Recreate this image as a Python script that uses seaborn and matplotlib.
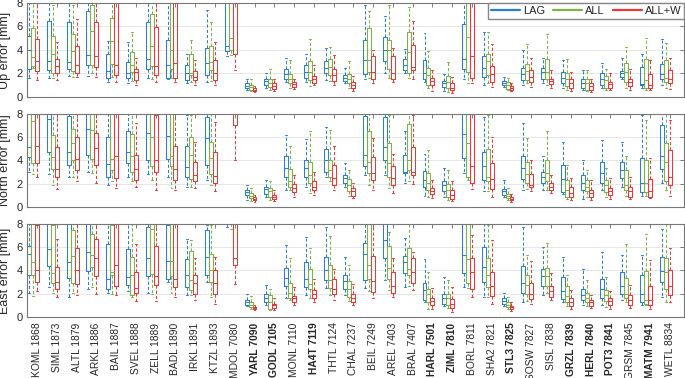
import numpy as np
import pandas as pd
import matplotlib
matplotlib.use("Agg")
import matplotlib.pyplot as plt
import seaborn as sns
from matplotlib.lines import Line2D

# ========== DATA ==========
stations = ["KOML 1868", "SIML 1873", "ALTL 1879", "ARKL 1886", "BAIL 1887",
            "SVEL 1888", "ZELL 1889", "BADL 1890", "IRKL 1891", "KTZL 1893",
            "MDOL 7080", "YARL 7090", "GODL 7105", "MONL 7110", "HA4T 7119",
            "THTL 7124", "CHAL 7237", "BEIL 7249", "AREL 7403", "BRAL 7407",
            "HARL 7501", "ZIML 7810", "BORL 7811", "SHA2 7821", "STL3 7825",
            "SOSW 7827", "SISL 7838", "GRZL 7839", "HERL 7840", "POT3 7841",
            "GRSM 7845", "MATM 7941", "WETL 8834"]
bold_stations = ["YARL 7090", "GODL 7105", "HA4T 7119", "HARL 7501", "ZIML 7810",
                 "STL3 7825", "GRZL 7839", "HERL 7840", "POT3 7841", "MATM 7941"]
methods = ["LAG", "ALL", "ALL+W"]
colors = ["#2b7fd3", "#7cb342", "#e8383a"]

# each box: [whisker low, q1, median, q3, whisker high] in mm (values > 8 are off-axis)
up_lag = [[1.65, 2.4, 4.0, 5.2, 9], [1.65, 2.3, 3.1, 6.45, 9], [1.75, 2.35, 2.95, 6.35, 8.0],
          [1.75, 2.7, 3.6, 7.3, 9], [1.3, 1.65, 2.2, 3.65, 4.8], [1.15, 1.65, 2.05, 2.95, 4.65],
          [1.65, 2.4, 3.2, 6.35, 9], [1.5, 1.65, 2.7, 4.85, 9], [1.15, 1.45, 2.0, 2.7, 3.7],
          [1.3, 1.85, 2.9, 4.15, 7.4], [3.5, 3.95, 4.35, 9, 9.5], [0.57, 0.8, 0.97, 1.15, 1.55],
          [0.8, 1.05, 1.4, 1.55, 2.0], [1.3, 1.55, 1.95, 2.35, 3.3], [1.3, 1.65, 2.15, 2.7, 3.7],
          [1.45, 2.0, 2.5, 3.05, 4.15], [1.15, 1.35, 1.65, 1.85, 2.5], [1.5, 1.95, 3.15, 4.85, 7.85],
          [2.05, 3.1, 4.0, 5.1, 6.9], [2.05, 2.3, 2.7, 3.2, 4.05], [1.25, 1.55, 2.05, 3.15, 5.45],
          [0.5, 0.85, 1.2, 1.35, 1.95], [1.55, 2.35, 3.2, 6.25, 9], [1.0, 1.7, 2.45, 3.45, 5.5],
          [0.85, 1.0, 1.2, 1.35, 1.7], [1.0, 1.45, 1.95, 2.5, 4.0], [1.15, 1.55, 2.15, 2.45, 3.35],
          [0.8, 1.15, 1.65, 2.15, 3.15], [0.57, 0.8, 1.15, 1.5, 2.3], [0.8, 1.0, 1.5, 2.05, 2.9],
          [1.5, 1.7, 2.0, 2.2, 3.35], [0.8, 1.0, 1.1, 2.55, 3.65], [1.0, 1.5, 1.95, 2.85, 4.9]]
up_all = [[2.5, 2.6, 3.4, 5.85, 9], [1.65, 2.05, 3.7, 5.15, 7.8], [1.7, 2.2, 3.95, 5.35, 7.8],
          [2.0, 2.75, 5.6, 7.8, 9], [1.7, 2.85, 4.75, 6.7, 8.0], [1.4, 2.1, 2.75, 3.8, 5.5],
          [1.5, 2.6, 4.3, 7.1, 9], [1.65, 2.4, 4.0, 8.0, 9], [1.3, 1.85, 2.05, 3.7, 4.85],
          [1.4, 2.3, 3.0, 4.3, 6.4], [3.6, 4.0, 5.0, 9, 9.5], [0.5, 0.63, 0.85, 1.05, 1.5],
          [0.63, 0.85, 1.2, 1.55, 2.35], [0.8, 1.15, 1.5, 1.95, 3.15], [0.9, 1.45, 2.15, 3.1, 4.9],
          [1.4, 1.85, 2.55, 3.2, 4.25], [0.8, 1.15, 1.5, 1.95, 3.1], [1.65, 2.15, 3.15, 5.85, 7.3],
          [1.65, 2.4, 4.0, 4.85, 7.85], [1.65, 2.0, 3.85, 5.55, 7.65], [0.8, 1.0, 1.85, 2.5, 3.95],
          [0.43, 0.8, 1.25, 1.75, 3.0], [1.2, 2.1, 5.1, 9, 9.5], [1.15, 1.85, 3.1, 3.7, 5.55],
          [0.57, 0.7, 1.0, 1.25, 1.65], [1.15, 1.45, 2.25, 2.8, 4.5], [1.0, 1.5, 2.1, 3.2, 5.35],
          [0.63, 0.9, 1.5, 2.05, 3.2], [0.5, 0.63, 1.2, 1.55, 2.3], [0.63, 0.8, 1.45, 1.75, 2.4],
          [0.8, 1.3, 2.15, 2.9, 4.25], [0.57, 0.8, 1.45, 3.2, 5.0], [0.8, 1.3, 1.6, 3.15, 4.6]]
up_allw = [[1.45, 2.25, 3.1, 4.95, 9], [1.45, 2.05, 2.6, 3.25, 4.7], [1.7, 2.05, 2.7, 4.3, 6.6],
           [1.7, 2.55, 3.5, 6.35, 9], [1.25, 1.85, 2.75, 9, 9.5], [1.0, 1.45, 2.15, 2.4, 3.3],
           [1.25, 1.85, 2.6, 5.95, 9], [1.3, 1.65, 2.9, 9, 9.5], [1.0, 1.45, 1.7, 2.2, 3.15],
           [1.0, 1.45, 2.05, 3.15, 4.7], [2.3, 3.7, 9, 9.5, 9.5], [0.43, 0.5, 0.63, 0.75, 0.9],
           [0.5, 0.65, 0.9, 1.15, 1.5], [0.7, 0.85, 1.1, 1.25, 1.5], [1.0, 1.15, 1.5, 1.75, 2.7],
           [1.0, 1.35, 1.85, 2.35, 3.55], [0.55, 0.8, 1.05, 1.3, 1.75], [1.2, 1.55, 2.15, 3.5, 4.0],
           [1.25, 1.55, 2.0, 3.5, 4.15], [1.5, 2.3, 2.55, 4.45, 6.45], [0.55, 1.0, 1.35, 1.65, 2.3],
           [0.3, 0.63, 0.8, 1.15, 1.7], [1.2, 1.65, 3.5, 9, 9.5], [0.85, 1.25, 1.95, 2.65, 4.55],
           [0.5, 0.63, 0.8, 0.95, 1.15], [0.85, 1.3, 1.7, 2.3, 3.3], [0.8, 1.1, 1.35, 1.55, 2.3],
           [0.5, 0.8, 1.15, 1.5, 2.15], [0.43, 0.63, 0.9, 1.15, 1.55], [0.57, 0.8, 1.1, 1.3, 2.05],
           [0.63, 0.9, 1.3, 1.55, 2.4], [0.57, 0.8, 1.0, 1.95, 3.15], [0.7, 1.15, 1.55, 2.3, 3.3]]

north_lag = [[3.0, 4.3, 5.2, 9, 9.5], [2.8, 4.7, 7.6, 9, 9.5], [2.6, 3.6, 4.75, 7.8, 9],
             [3.05, 4.5, 6.7, 9, 9.5], [1.9, 2.6, 3.7, 6.0, 9], [2.6, 3.75, 4.75, 6.55, 9],
             [2.8, 4.05, 6.35, 9, 9.5], [2.6, 4.1, 6.1, 9, 9.5], [1.75, 2.55, 3.4, 5.25, 7.9],
             [2.35, 3.6, 5.9, 7.75, 9], [8.5, 9, 9.5, 9.8, 10], [0.63, 1.05, 1.25, 1.5, 1.9],
             [0.85, 1.15, 1.55, 1.75, 2.35], [1.5, 2.6, 3.35, 4.4, 6.2], [1.75, 2.6, 3.35, 4.05, 5.85],
             [2.6, 3.05, 4.05, 4.95, 6.85], [1.75, 2.05, 2.5, 2.75, 3.75], [2.75, 3.55, 4.5, 7.8, 9],
             [2.75, 4.0, 5.15, 7.7, 9], [2.1, 2.9, 3.05, 4.5, 6.5], [0.97, 1.75, 2.35, 3.1, 4.55],
             [0.85, 1.35, 1.85, 2.2, 3.35], [2.9, 4.2, 6.3, 8.0, 9], [1.35, 2.35, 3.5, 4.75, 7.75],
             [0.85, 1.05, 1.35, 1.55, 2.35], [1.5, 2.4, 3.35, 4.35, 7.25], [1.5, 2.1, 2.6, 3.05, 4.35],
             [1.15, 1.25, 2.4, 3.6, 5.55], [0.7, 1.5, 2.1, 2.75, 4.05], [1.5, 2.05, 2.95, 3.85, 5.75],
             [1.75, 2.5, 3.15, 3.9, 5.6], [0.97, 1.25, 2.05, 4.2, 7.9], [2.05, 3.25, 4.35, 7.05, 9]]
north_all = [[2.8, 3.8, 7.4, 9, 9.5], [1.9, 3.25, 4.3, 6.2, 9], [2.6, 4.0, 5.5, 6.7, 9],
             [2.9, 4.1, 6.6, 9, 9.5], [2.2, 3.2, 4.1, 9, 9.5], [2.2, 3.0, 4.35, 6.3, 9],
             [2.3, 3.5, 6.0, 9, 9.5], [1.65, 3.5, 4.4, 9, 9.5], [1.75, 2.4, 4.5, 6.0, 7.9],
             [1.9, 2.85, 4.2, 5.6, 9], [8.5, 9, 9.5, 9.8, 10], [0.5, 0.77, 0.97, 1.2, 1.6],
             [0.63, 0.85, 1.35, 1.6, 2.2], [1.45, 1.75, 2.2, 3.25, 5.25], [1.2, 2.1, 2.75, 3.9, 6.55],
             [2.2, 2.6, 3.2, 4.05, 6.65], [0.97, 1.35, 1.9, 2.4, 3.2], [1.9, 2.9, 3.9, 6.5, 9],
             [1.6, 2.6, 3.8, 5.5, 7.9], [2.2, 3.2, 4.0, 7.15, 9], [0.85, 1.5, 2.05, 2.9, 4.9],
             [0.63, 0.85, 1.5, 2.0, 3.2], [2.35, 2.6, 5.5, 9, 9.5], [1.35, 2.2, 2.6, 5.0, 7.9],
             [0.57, 0.77, 0.97, 1.15, 1.6], [1.55, 2.1, 2.85, 3.85, 5.9], [1.5, 2.2, 2.95, 4.05, 6.5],
             [0.7, 0.9, 1.5, 2.35, 3.6], [0.85, 1.35, 1.75, 2.35, 3.15], [0.9, 1.25, 1.85, 2.3, 3.35],
             [0.97, 1.45, 1.9, 3.15, 4.35], [0.97, 1.25, 2.05, 4.05, 7.5], [1.5, 2.2, 3.9, 5.5, 8.0]]
north_allw = [[2.6, 3.75, 5.25, 9, 9.5], [1.55, 2.6, 3.25, 5.15, 9], [2.2, 3.2, 4.15, 6.0, 9],
              [2.05, 3.6, 5.05, 6.35, 9], [1.6, 2.5, 4.4, 9, 9.5], [1.7, 2.3, 3.25, 4.5, 7.2],
              [1.5, 3.0, 4.05, 7.9, 9], [1.5, 2.3, 3.25, 5.25, 9], [1.6, 2.2, 2.75, 3.9, 5.6],
              [1.35, 2.05, 2.7, 4.75, 7.35], [4.05, 7.05, 9, 9.5, 9.8], [0.4, 0.57, 0.7, 0.85, 1.05],
              [0.5, 0.7, 0.85, 1.05, 1.5], [0.85, 1.25, 1.6, 2.0, 2.75], [1.05, 1.5, 1.75, 2.2, 3.05],
              [1.5, 1.85, 2.5, 3.6, 5.25], [0.77, 0.97, 1.35, 1.6, 2.05], [1.5, 2.3, 2.9, 4.3, 5.9],
              [1.2, 1.9, 2.5, 3.5, 4.6], [2.0, 2.75, 3.05, 5.2, 7.9], [0.77, 1.15, 1.4, 1.6, 2.35],
              [0.5, 0.7, 1.05, 1.5, 2.2], [1.55, 2.1, 3.5, 9, 9.5], [0.9, 1.55, 2.4, 3.75, 6.05],
              [0.4, 0.57, 0.7, 0.85, 1.15], [1.35, 1.7, 1.9, 2.85, 4.05], [1.2, 1.5, 1.75, 2.1, 2.75],
              [0.57, 0.85, 1.2, 1.7, 2.5], [0.63, 0.85, 1.2, 1.5, 2.35], [0.7, 1.0, 1.35, 1.65, 2.5],
              [0.7, 0.85, 1.35, 1.75, 2.6], [0.77, 0.85, 1.35, 2.4, 4.2], [0.97, 1.85, 2.6, 4.9, 7.5]]

east_lag = [[2.05, 3.65, 5.45, 6.1, 9], [2.6, 4.4, 5.85, 9, 9.5], [1.7, 3.35, 4.7, 9, 9.5],
            [2.45, 3.95, 5.55, 9, 9.5], [2.1, 2.45, 3.3, 6.25, 9], [2.2, 2.75, 3.45, 5.85, 9],
            [2.1, 3.55, 5.05, 7.7, 9], [3.0, 3.3, 4.8, 7.95, 9], [1.9, 2.6, 3.6, 5.0, 6.75],
            [3.0, 3.6, 5.2, 7.5, 7.9], [7.7, 8.5, 9, 9.5, 10], [0.95, 1.05, 1.3, 1.45, 1.95],
            [1.0, 1.3, 1.65, 1.95, 2.75], [1.65, 2.7, 3.35, 4.25, 6.2], [1.85, 2.6, 3.25, 4.7, 6.9],
            [2.5, 3.15, 4.05, 5.2, 7.7], [1.85, 2.45, 3.1, 3.6, 5.2], [2.5, 3.15, 5.4, 6.35, 9],
            [3.15, 5.1, 6.6, 9, 9.5], [2.6, 3.75, 4.75, 5.25, 6.8], [1.25, 1.45, 2.3, 2.95, 5.0],
            [0.95, 1.15, 1.65, 1.95, 3.45], [2.6, 3.75, 5.3, 8.0, 9], [1.75, 3.0, 4.3, 6.05, 8.0],
            [0.95, 1.15, 1.4, 1.6, 2.1], [1.25, 2.1, 2.9, 4.4, 7.75], [1.85, 2.7, 3.55, 4.15, 6.05],
            [1.3, 1.55, 2.2, 3.45, 5.2], [1.05, 1.45, 1.85, 2.45, 4.1], [1.05, 1.65, 2.4, 3.3, 5.55],
            [1.45, 1.95, 2.7, 3.85, 5.3], [1.0, 1.25, 2.0, 3.65, 5.3], [1.75, 3.0, 3.95, 5.2, 7.55]]
east_all = [[1.8, 3.65, 4.7, 9, 9.5], [2.1, 2.9, 3.8, 7.9, 9], [2.1, 2.9, 5.25, 7.5, 9],
            [2.6, 4.3, 5.3, 7.1, 9], [2.0, 3.6, 3.9, 7.9, 9], [1.75, 1.9, 3.6, 5.15, 9],
            [2.0, 3.7, 7.6, 9, 9.5], [2.1, 3.5, 4.8, 9, 9.5], [1.9, 2.3, 3.15, 5.65, 6.6],
            [1.7, 3.0, 4.0, 5.45, 7.9], [7.6, 8.5, 9, 9.5, 10], [0.72, 0.85, 1.05, 1.25, 1.8],
            [0.57, 0.7, 1.3, 1.85, 2.45], [1.45, 1.65, 2.1, 2.9, 5.1], [1.6, 2.4, 2.8, 4.15, 5.95],
            [1.85, 2.5, 3.15, 4.5, 7.0], [1.35, 1.75, 2.4, 3.1, 4.45], [2.2, 3.3, 4.5, 9, 9.5],
            [2.3, 3.3, 4.2, 6.15, 7.35], [2.7, 3.6, 4.1, 5.9, 9], [0.7, 1.25, 1.95, 2.4, 3.9],
            [0.78, 1.0, 1.6, 2.0, 3.15], [2.5, 2.9, 5.0, 9, 9.5], [1.75, 2.6, 3.6, 5.05, 7.9],
            [0.65, 0.85, 1.05, 1.25, 1.75], [1.35, 1.95, 2.75, 3.6, 5.3], [2.1, 2.7, 3.5, 4.25, 6.4],
            [0.95, 1.25, 1.8, 2.7, 3.65], [0.95, 1.25, 1.65, 2.1, 3.15], [0.85, 1.35, 1.85, 2.3, 3.45],
            [1.25, 1.6, 2.0, 3.35, 6.25], [1.0, 1.15, 1.45, 3.95, 7.1], [1.25, 2.4, 3.85, 5.05, 8.0]]
east_allw = [[2.2, 3.0, 4.0, 7.9, 9], [1.7, 2.4, 3.0, 4.3, 6.75], [1.85, 2.8, 4.0, 5.95, 9],
             [2.0, 3.55, 5.05, 6.75, 9], [1.85, 2.7, 4.45, 9, 9.5], [1.35, 2.1, 2.5, 3.85, 6.25],
             [1.35, 2.75, 3.55, 6.15, 9], [1.75, 2.6, 3.25, 9, 9.5], [1.45, 2.0, 2.9, 3.65, 5.05],
             [1.15, 2.0, 2.9, 4.0, 5.2], [2.85, 4.45, 5.05, 9, 9.5], [0.57, 0.65, 0.77, 0.85, 1.05],
             [0.57, 0.78, 1.0, 1.15, 1.6], [1.0, 1.25, 1.6, 1.8, 2.6], [1.3, 1.65, 2.0, 2.3, 3.25],
             [1.45, 1.95, 2.45, 3.3, 4.15], [1.0, 1.25, 1.65, 2.0, 2.8], [1.6, 2.15, 3.1, 5.25, 9],
             [1.75, 2.1, 2.7, 3.9, 5.05], [2.3, 2.9, 3.85, 5.1, 5.55], [0.65, 1.0, 1.35, 1.65, 2.5],
             [0.43, 0.78, 1.15, 1.55, 2.6], [1.75, 2.4, 3.85, 5.05, 7.05], [1.15, 1.8, 2.7, 3.9, 6.6],
             [0.5, 0.65, 0.83, 0.95, 1.25], [1.15, 1.55, 2.0, 2.9, 4.8], [1.45, 1.75, 2.2, 2.7, 3.75],
             [0.65, 0.95, 1.3, 1.6, 2.3], [0.77, 0.95, 1.25, 1.45, 1.85], [0.72, 1.0, 1.35, 1.65, 2.2],
             [0.77, 1.0, 1.45, 1.85, 2.75], [0.72, 1.0, 1.45, 2.7, 4.9], [1.25, 1.85, 2.7, 4.05, 5.9]]

panels = [("Up error [mm]", [up_lag, up_all, up_allw]),
          ("North error [mm]", [north_lag, north_all, north_allw]),
          ("East error [mm]", [east_lag, east_all, east_allw])]

# ========== PLOT ==========
sns.set_style("white")
plt.rcParams["font.family"] = ["Liberation Sans", "DejaVu Sans"]

fig, axes = plt.subplots(3, 1, figsize=(6.85, 3.78), dpi=100)
# [bottom, height] of each panel in figure fraction
layout = [(0.7434, 0.2487), (0.4524, 0.2460), (0.1614, 0.2460)]

for i, (ax, (label, groups)) in enumerate(zip(axes, panels)):
    ax.set_position([0.0394, layout[i][0], 0.9598, layout[i][1]])
    rows = []
    for m, stats in zip(methods, groups):
        for st, five in zip(stations, stats):
            for v in five:
                rows.append({"station": st, "method": m, "value": v})
    df = pd.DataFrame(rows)

    sns.boxplot(data=df, x="station", y="value", hue="method", order=stations,
                hue_order=methods, palette=colors, fill=False, whis=(0, 100),
                width=0.6, gap=0, linewidth=0.75, showfliers=False,
                whiskerprops={"linestyle": (0, (3, 2))}, legend=False, ax=ax)

    ax.set_ylim(0, 8)
    ax.set_yticks([0, 2, 4, 6, 8])
    ax.set_xlim(-0.31, 32.95)
    ax.set_xticks(np.arange(len(stations)) + 0.2)
    ax.set_ylabel(label, fontsize=9, labelpad=4)
    ax.set_xlabel("")
    ax.set_axisbelow(True)
    ax.yaxis.grid(True, color="#e6e6e6", linewidth=0.7)
    ax.tick_params(direction="in", top=True, right=True, length=3, width=0.6,
                   color="#666666", labelsize=8, pad=3)
    for sp in ax.spines.values():
        sp.set_color("#777777")
        sp.set_linewidth(0.8)
    if i < 2:
        ax.set_xticklabels([])
    else:
        ax.set_xticklabels(stations, rotation=90, fontsize=7.4)
        ax.tick_params(axis="x", pad=4)
        for t in ax.get_xticklabels():
            if t.get_text() in bold_stations:
                t.set_fontweight("bold")

handles = [Line2D([0], [0], color=c, lw=1.6) for c in colors]
axes[0].legend(handles, methods, loc="upper right", ncol=3, fontsize=8,
               frameon=True, fancybox=False, edgecolor="#888888", framealpha=1,
               handlelength=2.6, handletextpad=0.3, columnspacing=0.7,
               borderaxespad=0.0, borderpad=0.25)

plt.savefig("out.png", dpi=100)
